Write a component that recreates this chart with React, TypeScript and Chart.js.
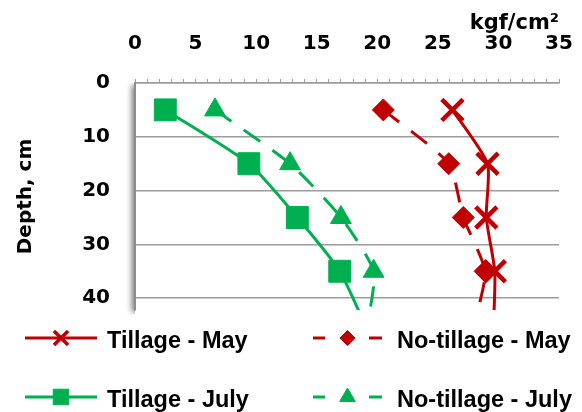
import React, { useEffect, useRef } from 'react';
import { Chart, registerables } from 'chart.js';
import { drawPoint } from 'chart.js/helpers';

Chart.register(...registerables);

// ---- data ----
const depths = [5, 15, 25, 35, 45];
const tillageMay = [26.2, 29.1, 29.0, 29.7, 29.6];
const noTillageMay = [20.5, 25.9, 27.1, 28.9, 28.0];
const tillageJuly = [2.5, 9.4, 13.4, 16.9, 19.0];
const noTillageJuly = [6.6, 12.8, 17.0, 19.7, 19.2];
const seriesLabels = ['Tillage - May', 'No-tillage - May', 'Tillage - July', 'No-tillage - July'];
const xAxisMin = 0;
const xAxisMax = 35;
const xLabelStep = 5;
const depthMin = 0;
const depthMax = 42.2;
const depthLabelStep = 10;
const xAxisTitle = 'kgf/cm²';
const yAxisTitle = 'Depth, cm';

const RED = '#C00000';
const GREEN = '#00B050';
const GRID = '#9c9c9c';

const toPoints = (vals: number[]) => vals.map((v, i) => ({ x: v, y: depths[i] }));

const shadowPlugin = {
  id: 'leftShadow',
  beforeDraw(chart: any) {
    const { ctx, chartArea } = chart;
    const { left, top, right, bottom } = chartArea;
    ctx.save();
    ctx.beginPath();
    ctx.rect(0, top, left, bottom - top + 4);
    ctx.clip();
    ctx.shadowColor = 'rgba(0,0,0,0.55)';
    ctx.shadowBlur = 6;
    ctx.shadowOffsetX = -3;
    ctx.shadowOffsetY = 2;
    ctx.fillStyle = '#ffffff';
    ctx.fillRect(left, top, right - left, bottom - top);
    ctx.restore();
  },
};

const legendRadius = [10, 7.5, 11, 9];

const legendPlugin = {
  id: 'sampleLegend',
  afterDraw(chart: any) {
    const ctx = chart.ctx;
    const cols = [
      { x0: 25, x1: 97, tx: 107 },
      { x0: 313, x1: 382, tx: 397 },
    ];
    const rows = [338, 397];
    chart.data.datasets.forEach((ds: any, i: number) => {
      const c = cols[i % 2];
      const y = rows[Math.floor(i / 2)];
      const cx = (c.x0 + c.x1) / 2;
      ctx.save();
      ctx.strokeStyle = ds.borderColor;
      ctx.lineWidth = 3;
      ctx.lineCap = 'butt';
      ctx.beginPath();
      if (ds.borderDash && ds.borderDash.length) {
        ctx.moveTo(c.x0, y);
        ctx.lineTo(c.x0 + 12, y);
        ctx.moveTo(c.x1 - 13, y);
        ctx.lineTo(c.x1, y);
      } else {
        ctx.moveTo(c.x0, y);
        ctx.lineTo(c.x1, y);
      }
      ctx.stroke();
      ctx.fillStyle = ds.pointBackgroundColor;
      ctx.strokeStyle = ds.pointBorderColor;
      ctx.lineWidth = ds.pointStyle === 'crossRot' ? 3.5 : 1;
      drawPoint(ctx, { pointStyle: ds.pointStyle, radius: legendRadius[i], borderWidth: ctx.lineWidth, rotation: 0 } as any, cx, y);
      ctx.fillStyle = '#000';
      ctx.font = 'bold 23.5px "Liberation Sans", Arial, sans-serif';
      ctx.textBaseline = 'alphabetic';
      ctx.textAlign = 'left';
      ctx.fillText(ds.label, c.tx, y + 9.5);
      ctx.restore();
    });
  },
};

export default function App() {
  const ref = useRef<HTMLCanvasElement | null>(null);

  useEffect(() => {
    if (!ref.current) return;
    const chart = new Chart(ref.current, {
      type: 'line',
      data: {
        datasets: [
          {
            label: seriesLabels[0],
            data: toPoints(tillageMay),
            borderColor: RED,
            backgroundColor: RED,
            borderWidth: 3,
            pointStyle: 'crossRot',
            pointRadius: 15,
            pointBorderWidth: 4.5,
            pointBackgroundColor: RED,
            pointBorderColor: RED,
            tension: 0.2,
          },
          {
            label: seriesLabels[1],
            data: toPoints(noTillageMay),
            borderColor: RED,
            backgroundColor: RED,
            borderWidth: 3,
            borderDash: [20, 15],
            pointStyle: 'rectRot',
            pointRadius: 11,
            pointBorderWidth: 1,
            pointBackgroundColor: RED,
            pointBorderColor: RED,
            tension: 0.2,
          },
          {
            label: seriesLabels[2],
            data: toPoints(tillageJuly),
            borderColor: GREEN,
            backgroundColor: GREEN,
            borderWidth: 3,
            pointStyle: 'rect',
            pointRadius: 15.5,
            pointBorderWidth: 1,
            pointBackgroundColor: GREEN,
            pointBorderColor: GREEN,
            tension: 0.2,
          },
          {
            label: seriesLabels[3],
            data: toPoints(noTillageJuly),
            borderColor: GREEN,
            backgroundColor: GREEN,
            borderWidth: 3,
            borderDash: [20, 15],
            pointStyle: 'triangle',
            pointRadius: 12,
            pointBorderWidth: 1,
            pointBackgroundColor: GREEN,
            pointBorderColor: GREEN,
            tension: 0.2,
          },
        ] as any,
      },
      options: {
        animation: false,
        responsive: false,
        devicePixelRatio: 1,
        layout: { padding: { top: 10, left: 10, right: 23, bottom: 102 } },
        plugins: {
          legend: { display: false },
          tooltip: { enabled: false },
        },
        scales: {
          x: {
            type: 'linear',
            position: 'top',
            min: xAxisMin,
            max: xAxisMax,
            afterFit: (s: any) => { s.height = 73; s.paddingLeft = 0; s.paddingRight = 0; },
            grid: {
              drawOnChartArea: false,
              drawTicks: true,
              tickLength: 4,
              color: GRID,
              lineWidth: 1,
            },
            border: { display: true, color: GRID, width: 1.5 },
            ticks: {
              stepSize: 1,
              autoSkip: false,
              maxRotation: 0,
              padding: 25,
              color: '#000',
              font: { family: '"DejaVu Sans", sans-serif', size: 20, weight: 'bold', lineHeight: 1 },
              callback: (v: any) => (Number(v) % xLabelStep === 0 ? String(v) : ''),
            },
            title: {
              display: true,
              text: xAxisTitle,
              align: 'end',
              color: '#000',
              padding: { top: 3, bottom: 0 },
              font: { family: '"DejaVu Sans", sans-serif', size: 21, weight: 'bold', lineHeight: 1 },
            },
          },
          y: {
            type: 'linear',
            reverse: true,
            min: depthMin,
            max: depthMax,
            afterFit: (s: any) => { s.width = 125; s.paddingTop = 0; s.paddingBottom = 0; },
            grid: {
              drawTicks: false,
              color: GRID,
              lineWidth: 1.5,
            },
            border: { display: true, color: '#8c8c8c', width: 2 },
            ticks: {
              stepSize: depthLabelStep,
              includeBounds: false,
              padding: 25,
              color: '#000',
              font: { family: '"DejaVu Sans", sans-serif', size: 20, weight: 'bold', lineHeight: 1 },
            },
            title: {
              display: true,
              text: yAxisTitle,
              color: '#000',
              padding: { top: 6, bottom: 46 },
              font: { family: '"DejaVu Sans", sans-serif', size: 20, weight: 'bold', lineHeight: 1 },
            },
          },
        },
      } as any,
      plugins: [shadowPlugin, legendPlugin],
    });
    return () => chart.destroy();
  }, []);

  return (
    <canvas
      ref={ref}
      width={582}
      height={412}
      style={{ position: 'absolute', left: 0, top: 0, width: 582, height: 412, background: '#fff' }}
    />
  );
}
